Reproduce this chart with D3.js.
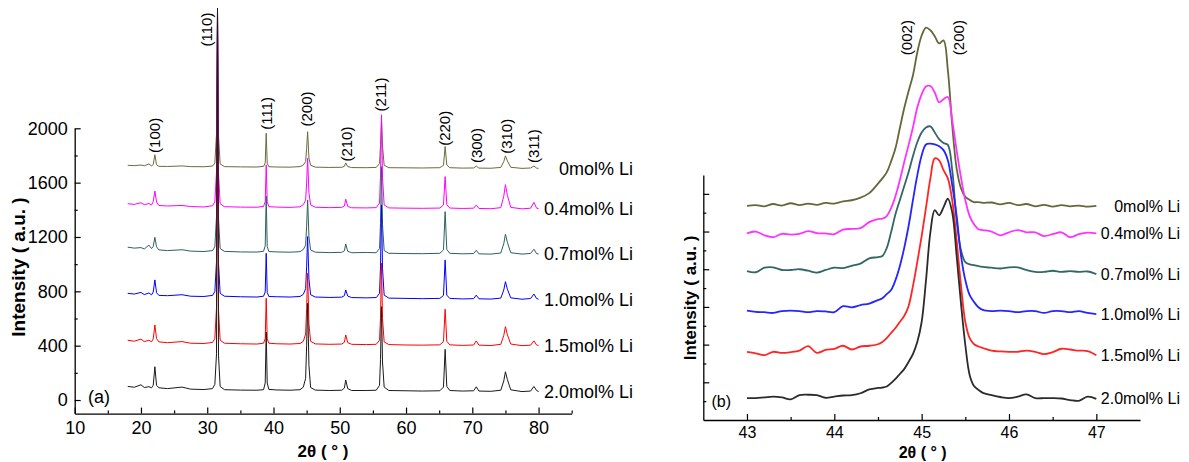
<!DOCTYPE html>
<meta charset="utf-8">
<script src="https://d3js.org/d3.v7.min.js"></script>
<style>

body { margin: 0; background: #fff; }

text {
  font-family: "Liberation Sans", Arial, sans-serif;
  fill: #000;
}

.axis .domain { stroke: #000; stroke-width: 1.3px; }
.axis .tick line { stroke: #000; stroke-width: 1.2px; }
.axisA text { font-size: 18px; }
.axisB text { font-size: 16px; }

path.trace { fill: none; stroke-linejoin: round; }

</style>
<body>
<script>

// ---------- shared ----------
var seriesNames = ["0mol% Li", "0.4mol% Li", "0.7mol% Li", "1.0mol% Li", "1.5mol% Li", "2.0mol% Li"];
var colorsA = ["#6b6b3c", "#ff00ff", "#2f5f5f", "#0000ff", "#ff0000", "#1a1a1a"];
var colorsB = ["#66663a", "#ff33ff", "#336666", "#2525ff", "#ff2525", "#2b2b2b"];

// ---------- panel (a): 2theta 18-80 ----------
var thetaA = [18, 19, 20, 20.5, 21.2, 21.6, 21.85, 22.1, 22.35, 22.7,
  24, 26.2, 27.5, 29.5, 30.8, 31.15, 31.4, 31.55, 31.7, 31.95,
  32.6, 35, 37.5, 38.5, 38.75, 38.9, 39.05, 39.3, 40.5, 42.5,
  44.0, 44.5, 44.85, 45.0, 45.15, 45.35, 45.6, 46.3, 48.5, 50.3,
  50.7, 50.9, 51.2, 51.8, 54, 55.5, 56.0, 56.15, 56.3, 56.45,
  56.7, 57.4, 60, 62.5, 65.1, 65.65, 65.9, 66.15, 66.6, 68.5,
  70.2, 70.6, 71.0, 72.8, 74.3, 74.75, 75.0, 75.3, 75.8, 77.5,
  78.8, 79.3, 79.7, 80];

var li00A = [1728, 1725, 1730, 1724, 1738, 1722, 1735, 1805, 1732, 1720,
  1719, 1723, 1718, 1717, 1722, 1745, 1960, 2870, 1950, 1738,
  1718, 1716, 1715, 1720, 1745, 1964, 1742, 1717, 1715, 1714,
  1718, 1730, 1755, 1850, 1975, 1780, 1728, 1714, 1712, 1713,
  1720, 1745, 1718, 1711, 1710, 1712, 1740, 1880, 2060, 1870,
  1728, 1710, 1709, 1708, 1710, 1728, 1866, 1730, 1710, 1707,
  1708, 1722, 1707, 1706, 1712, 1755, 1797, 1760, 1713, 1705,
  1708, 1722, 1707, 1705];

var li04A = [1445, 1440, 1452, 1438, 1446, 1436, 1460, 1538, 1458, 1432,
  1428, 1432, 1424, 1421, 1430, 1458, 1680, 2860, 1670, 1445,
  1423, 1420, 1419, 1425, 1460, 1731, 1458, 1423, 1420, 1418,
  1422, 1438, 1470, 1600, 1780, 1525, 1436, 1419, 1416, 1418,
  1428, 1478, 1425, 1415, 1414, 1416, 1450, 1655, 2100, 1640,
  1436, 1414, 1412, 1411, 1413, 1436, 1645, 1438, 1413, 1410,
  1412, 1435, 1410, 1408, 1416, 1500, 1585, 1505, 1418, 1407,
  1412, 1455, 1412, 1408];

var li07A = [1125, 1118, 1122, 1112, 1140, 1115, 1130, 1198, 1128, 1105,
  1100, 1106, 1096, 1093, 1100, 1128, 1350, 2850, 1340, 1115,
  1094, 1090, 1089, 1095, 1135, 1500, 1130, 1093, 1090, 1088,
  1092, 1108, 1140, 1280, 1473, 1200, 1105, 1088, 1085, 1087,
  1098, 1149, 1095, 1084, 1086, 1084, 1115, 1300, 1718, 1290,
  1100, 1080, 1078, 1077, 1080, 1105, 1387, 1108, 1080, 1076,
  1078, 1102, 1076, 1074, 1082, 1150, 1220, 1160, 1084, 1074,
  1079, 1110, 1078, 1075];

var li10A = [785, 780, 792, 776, 788, 774, 795, 884, 790, 770,
  768, 775, 764, 762, 770, 798, 1020, 2865, 1010, 785,
  764, 760, 758, 764, 795, 1080, 792, 762, 760, 758,
  762, 778, 820, 980, 1203, 890, 775, 758, 755, 757,
  768, 810, 765, 754, 752, 754, 785, 985, 1436, 970,
  772, 750, 748, 746, 748, 770, 1031, 772, 748, 744,
  746, 772, 745, 743, 750, 810, 871, 815, 752, 742,
  747, 780, 747, 742];

var li15A = [440, 433, 448, 430, 440, 428, 450, 552, 452, 428,
  422, 430, 418, 416, 424, 452, 680, 2875, 665, 440,
  418, 414, 412, 418, 452, 749, 450, 418, 414, 412,
  416, 432, 485, 672, 933, 560, 432, 413, 410, 412,
  425, 479, 422, 410, 408, 410, 440, 610, 1007, 600,
  428, 408, 405, 404, 406, 430, 668, 432, 406, 402,
  405, 435, 404, 401, 410, 475, 540, 480, 412, 400,
  404, 435, 405, 400];

var li20A = [100, 94, 112, 92, 98, 90, 108, 245, 108, 90,
  84, 95, 80, 77, 84, 115, 340, 2885, 330, 100,
  76, 73, 72, 76, 125, 500, 125, 78, 74, 72,
  76, 95, 160, 400, 712, 254, 92, 73, 70, 72,
  88, 147, 84, 70, 70, 72, 108, 300, 687, 280,
  95, 70, 68, 66, 68, 95, 373, 100, 70, 66,
  68, 97, 66, 64, 72, 140, 208, 150, 75, 62,
  66, 100, 70, 62];

var xTicksA = [10, 20, 30, 40, 50, 60, 70, 80];
var xMinorA = [15, 25, 35, 45, 55, 65, 75, 85];
var yTicksA = [0, 400, 800, 1200, 1600, 2000];
var yMinorA = [200, 600, 1000, 1400, 1800];

var peakNamesA = ["(100)", "(110)", "(111)", "(200)", "(210)", "(211)", "(220)", "(300)", "(310)", "(311)"];
var peakThetaA = [22.1, 29.95, 38.96, 45.04, 51.03, 56.2, 65.85, 70.63, 75.16, 79.28];
var peakLabelYA = [1819, 2602, 1989, 2013, 1755, 2124, 1871, 1744, 1812, 1744];

// ---------- panel (b): 2theta 43-47 ----------
var thetaB = [43.0, 43.1, 43.2, 43.3, 43.4, 43.5, 43.6, 43.7, 43.8, 43.9,
  44.0, 44.1, 44.2, 44.3, 44.4, 44.5, 44.55, 44.6, 44.65, 44.7,
  44.75, 44.8, 44.85, 44.9, 44.95, 45.0, 45.05, 45.1, 45.15, 45.2,
  45.25, 45.3, 45.35, 45.4, 45.45, 45.5, 45.55, 45.6, 45.65, 45.7,
  45.8, 45.9, 46.0, 46.1, 46.2, 46.3, 46.4, 46.5, 46.6, 46.7,
  46.8, 46.9, 47.0];

var li00B = [568, 570, 567, 573, 569, 575, 570, 574, 571, 576,
  574, 580, 583, 590, 602, 627, 641, 657, 686, 721,
  774, 827, 872, 914, 975, 1020, 1041, 1034, 1018, 999,
  1007, 928, 782, 668, 615, 592, 584, 578, 578, 576,
  577, 572, 576, 570, 573, 567, 571, 566, 570, 567,
  569, 566, 568];

var li04B = [495, 500, 490, 485, 494, 492, 494, 501, 496, 495,
  493, 505, 507, 509, 525, 533, 534, 541, 562, 594,
  636, 684, 729, 776, 829, 864, 885, 886, 869, 843,
  851, 857, 795, 716, 644, 583, 541, 519, 506, 504,
  500, 490, 498, 504, 498, 498, 488, 493, 498, 485,
  493, 497, 495];

var li07B = [395, 392, 404, 405, 398, 398, 400, 396, 391, 398,
  404, 403, 409, 415, 429, 432, 435, 456, 498, 546,
  583, 620, 657, 700, 737, 763, 776, 779, 763, 745,
  735, 730, 663, 530, 451, 419, 413, 411, 408, 406,
  404, 402, 405, 405, 398, 393, 393, 396, 393, 395,
  393, 394, 387];

var li10B = [290, 287, 286, 284, 289, 290, 289, 286, 289, 288,
  286, 302, 299, 305, 309, 318, 323, 334, 345, 371,
  408, 456, 514, 583, 649, 702, 731, 733, 731, 726,
  716, 689, 623, 543, 437, 371, 331, 313, 299, 292,
  289, 290, 289, 286, 289, 289, 284, 289, 289, 286,
  289, 284, 281];

var li15B = [181, 177, 172, 181, 178, 180, 184, 196, 178, 186,
  189, 197, 187, 195, 197, 201, 207, 217, 231, 244,
  260, 276, 302, 355, 419, 488, 564, 641, 694, 689,
  663, 641, 583, 477, 358, 260, 217, 201, 195, 191,
  184, 182, 181, 181, 184, 181, 175, 180, 189, 187,
  184, 183, 172];

var li20B = [58, 58, 60, 62, 60, 55, 66, 67, 66, 59,
  62, 65, 66, 71, 81, 85, 86, 89, 98, 109,
  122, 135, 154, 175, 207, 260, 371, 498, 557, 543,
  564, 587, 551, 437, 310, 199, 119, 90, 80, 72,
  66, 61, 58, 62, 68, 58, 58, 58, 57, 53,
  51, 62, 56];

var xTicksB = [43, 44, 45, 46, 47];
var xMinorB = [43.5, 44.5, 45.5, 46.5];
var yTicksB = [100, 200, 300, 400, 500, 600];
var yMinorB = [50, 150, 250, 350, 450, 550];

var peakNamesB = ["(002)", "(200)"];
var peakThetaB = [44.83, 45.42];
var peakLabelYB = [968, 968];

// ---------- drawing ----------
var width = 1189,
    height = 462;

var svg = d3.select("body").append("svg")
    .attr("width", width)
    .attr("height", height);

function drawPanel(p) {
  var g = svg.append("g");

  // bottom axis, ticks pointing inward
  g.append("g")
      .attr("class", "axis " + p.cls)
      .attr("transform", "translate(0," + p.y.range()[0] + ")")
      .call(d3.axisBottom(p.x).tickValues(p.xTicks).tickFormat(d3.format("d"))
        .tickSizeInner(-6).tickSizeOuter(0).tickPadding(p.xPad));
  g.append("g")
      .attr("class", "axis")
      .attr("transform", "translate(0," + p.y.range()[0] + ")")
      .call(d3.axisBottom(p.x).tickValues(p.xMinor).tickSize(-3).tickFormat(""))
      .call(function(s) { s.select(".domain").remove(); });

  // left axis
  var yAxis = d3.axisLeft(p.y).tickValues(p.yTicks).tickSizeInner(-6).tickSizeOuter(0).tickPadding(7)
      .tickFormat(p.yLabels ? d3.format("d") : "");
  g.append("g")
      .attr("class", "axis " + p.cls)
      .attr("transform", "translate(" + p.x.range()[0] + ",0)")
      .call(yAxis);
  g.append("g")
      .attr("class", "axis")
      .attr("transform", "translate(" + p.x.range()[0] + ",0)")
      .call(d3.axisLeft(p.y).tickValues(p.yMinor).tickSize(-3).tickFormat(""))
      .call(function(s) { s.select(".domain").remove(); });

  // traces, first series at the back
  p.series.forEach(function(vals, k) {
    var line = d3.line()
        .x(function(d, i) { return p.x(p.theta[i]); })
        .y(function(d) { return p.y(d); })
        .curve(p.curve);
    g.append("path")
        .attr("class", "trace")
        .attr("d", line(vals))
        .style("stroke", p.colors[k])
        .style("stroke-width", p.lineWidth);

    g.append("text")
        .attr("x", p.labelRight)
        .attr("y", p.y(vals[vals.length - 1]))
        .attr("dy", "0.35em")
        .attr("text-anchor", "end")
        .style("font-size", p.labelSize + "px")
        .text(seriesNames[k]);
  });

  // peak indices
  p.peakNames.forEach(function(name, i) {
    g.append("text")
        .attr("transform", "translate(" + p.x(p.peakTheta[i]) + "," + p.y(p.peakY[i]) + ") rotate(-90)")
        .attr("dy", "0.35em")
        .style("font-size", "15px")
        .text(name);
  });

  // axis titles
  g.append("text")
      .attr("transform", "translate(" + p.yTitle[0] + "," + p.yTitle[1] + ") rotate(-90)")
      .attr("text-anchor", "middle")
      .attr("dy", "0.35em")
      .style("font-weight", "bold")
      .style("font-size", p.yTitleSize + "px")
      .text("Intensity ( a.u. )");
  g.append("text")
      .attr("x", p.xTitle[0])
      .attr("y", p.xTitle[1])
      .attr("text-anchor", "middle")
      .attr("dy", "0.35em")
      .style("font-weight", "bold")
      .style("font-size", p.xTitleSize + "px")
      .text("2θ ( ° )");

  // panel letter
  g.append("text")
      .attr("x", p.tag[0])
      .attr("y", p.tag[1])
      .attr("dy", "0.35em")
      .style("font-size", p.tagSize + "px")
      .text(p.tagText);
}

drawPanel({
  cls: "axisA",
  x: d3.scaleLinear().domain([10, 85]).range([74.7, 571.7]),
  y: d3.scaleLinear().domain([-100, 2000]).range([413.6, 128.3]),
  xTicks: xTicksA, xMinor: xMinorA, yTicks: yTicksA, yMinor: yMinorA,
  xPad: 8, yLabels: true,
  theta: thetaA,
  series: [li00A, li04A, li07A, li10A, li15A, li20A],
  colors: colorsA, lineWidth: 1, curve: d3.curveLinear,
  labelRight: 633, labelSize: 18,
  peakNames: peakNamesA, peakTheta: peakThetaA, peakY: peakLabelYA,
  yTitle: [18.5, 267], yTitleSize: 19,
  xTitle: [323, 451], xTitleSize: 17,
  tag: [88, 397], tagSize: 18, tagText: "(a)"
});

drawPanel({
  cls: "axisB",
  x: d3.scaleLinear().domain([42.5, 47.5]).range([703.3, 1140]),
  y: d3.scaleLinear().domain([0, 650]).range([420, 175]),
  xTicks: xTicksB, xMinor: xMinorB, yTicks: yTicksB, yMinor: yMinorB,
  xPad: 7, yLabels: false,
  theta: thetaB,
  series: [li00B, li04B, li07B, li10B, li15B, li20B],
  colors: colorsB, lineWidth: 1.8, curve: d3.curveCatmullRom.alpha(0.5),
  labelRight: 1180, labelSize: 16,
  peakNames: peakNamesB, peakTheta: peakThetaB, peakY: peakLabelYB,
  yTitle: [690, 298], yTitleSize: 17,
  xTitle: [922.7, 452], xTitleSize: 16,
  tag: [711.5, 401.7], tagSize: 16, tagText: "(b)"
});

</script>
</body>
